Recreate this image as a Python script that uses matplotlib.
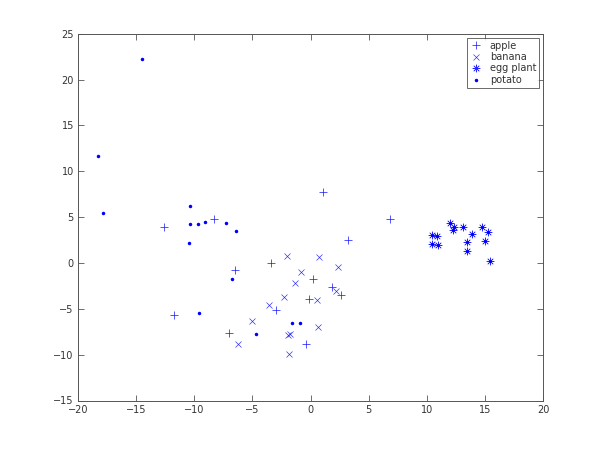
import matplotlib
matplotlib.use("Agg")
import matplotlib.pyplot as plt

apple_x = [-12.6, -8.3, 1.08, 6.81, 3.26, -3.39, -6.49, 0.25, -11.71, -2.93, -0.13, -7.0, -0.35, 1.83, 2.66]
apple_y = [3.9, 4.78, 7.73, 4.78, 2.51, -0.04, -0.77, -1.78, -5.65, -5.17, -3.97, -7.69, -8.85, -2.62, -3.46]

banana_x = [-1.99, 0.77, 2.37, -0.82, -1.36, -2.25, -3.6, 0.53, 2.23, -5.06, 0.68, -6.2, -1.9, -1.75, -1.85]
banana_y = [0.77, 0.62, -0.44, -1.02, -2.19, -3.75, -4.63, -4.04, -3.1, -6.38, -7.03, -8.85, -7.87, -7.76, -9.98]

egg_x = [10.43, 10.88, 10.48, 11.0, 12.03, 12.32, 12.26, 13.12, 13.89, 13.5, 13.5, 14.79, 15.27, 15.01, 15.44]
egg_y = [3.03, 2.98, 2.04, 2.0, 4.34, 3.97, 3.61, 3.97, 3.13, 2.33, 1.35, 3.9, 3.42, 2.44, 0.25]

potato_x = [-14.52, -18.28, -17.82, -10.39, -10.33, -9.64, -9.04, -7.23, -6.43, -10.48, -6.78, -9.56, -4.71, -1.56, -0.87]
potato_y = [22.25, 11.62, 5.5, 6.26, 4.26, 4.26, 4.52, 4.34, 3.46, 2.19, -1.75, -5.43, -7.76, -6.52, -6.52]

labels = ["apple", "banana", "egg plant", "potato"]
xticks = list(range(-20, 21, 5))
yticks = list(range(-15, 26, 5))

fig = plt.figure(figsize=(6, 4.5), dpi=100)
ax = fig.add_axes([0.13, 0.11, 0.775, 0.815])
blue = (0.15, 0.15, 1)
ax.plot(apple_x, apple_y, linestyle="none", marker="+", color=blue, markersize=6, markeredgewidth=0.55, label=labels[0])
ax.plot(banana_x, banana_y, linestyle="none", marker="x", color=blue, markersize=4.5, markeredgewidth=0.45, label=labels[1])
ax.plot(egg_x, egg_y, linestyle="none", marker=(8, 2, 0), color=blue, markersize=5.5, markeredgewidth=0.45, label=labels[2])
ax.plot(egg_x, egg_y, linestyle="none", marker=".", color=(0, 0, 1), markersize=2.5)
ax.plot(potato_x, potato_y, linestyle="none", marker=".", color=(0, 0, 1), markersize=3, label=labels[3])

ax.set_xlim(-20, 20)
ax.set_ylim(-15, 25)
ax.set_xticks(xticks)
ax.set_yticks(yticks)
ax.tick_params(direction="in", top=True, right=True, length=4, width=0.6,
               labelsize=7, labelcolor="#333333", color="#555555", pad=3)
for s in ax.spines.values():
    s.set_linewidth(0.7)
    s.set_color("#555555")

leg = ax.legend(loc="upper right", fontsize=7, frameon=True, fancybox=False,
                edgecolor="#444444", borderpad=0.3, labelspacing=0.15,
                handlelength=1.2, handletextpad=0.8, borderaxespad=0.4)
leg.get_frame().set_linewidth(0.7)
for t in leg.get_texts():
    t.set_color("#333333")

fig.savefig("out.png", dpi=100, facecolor="white")
